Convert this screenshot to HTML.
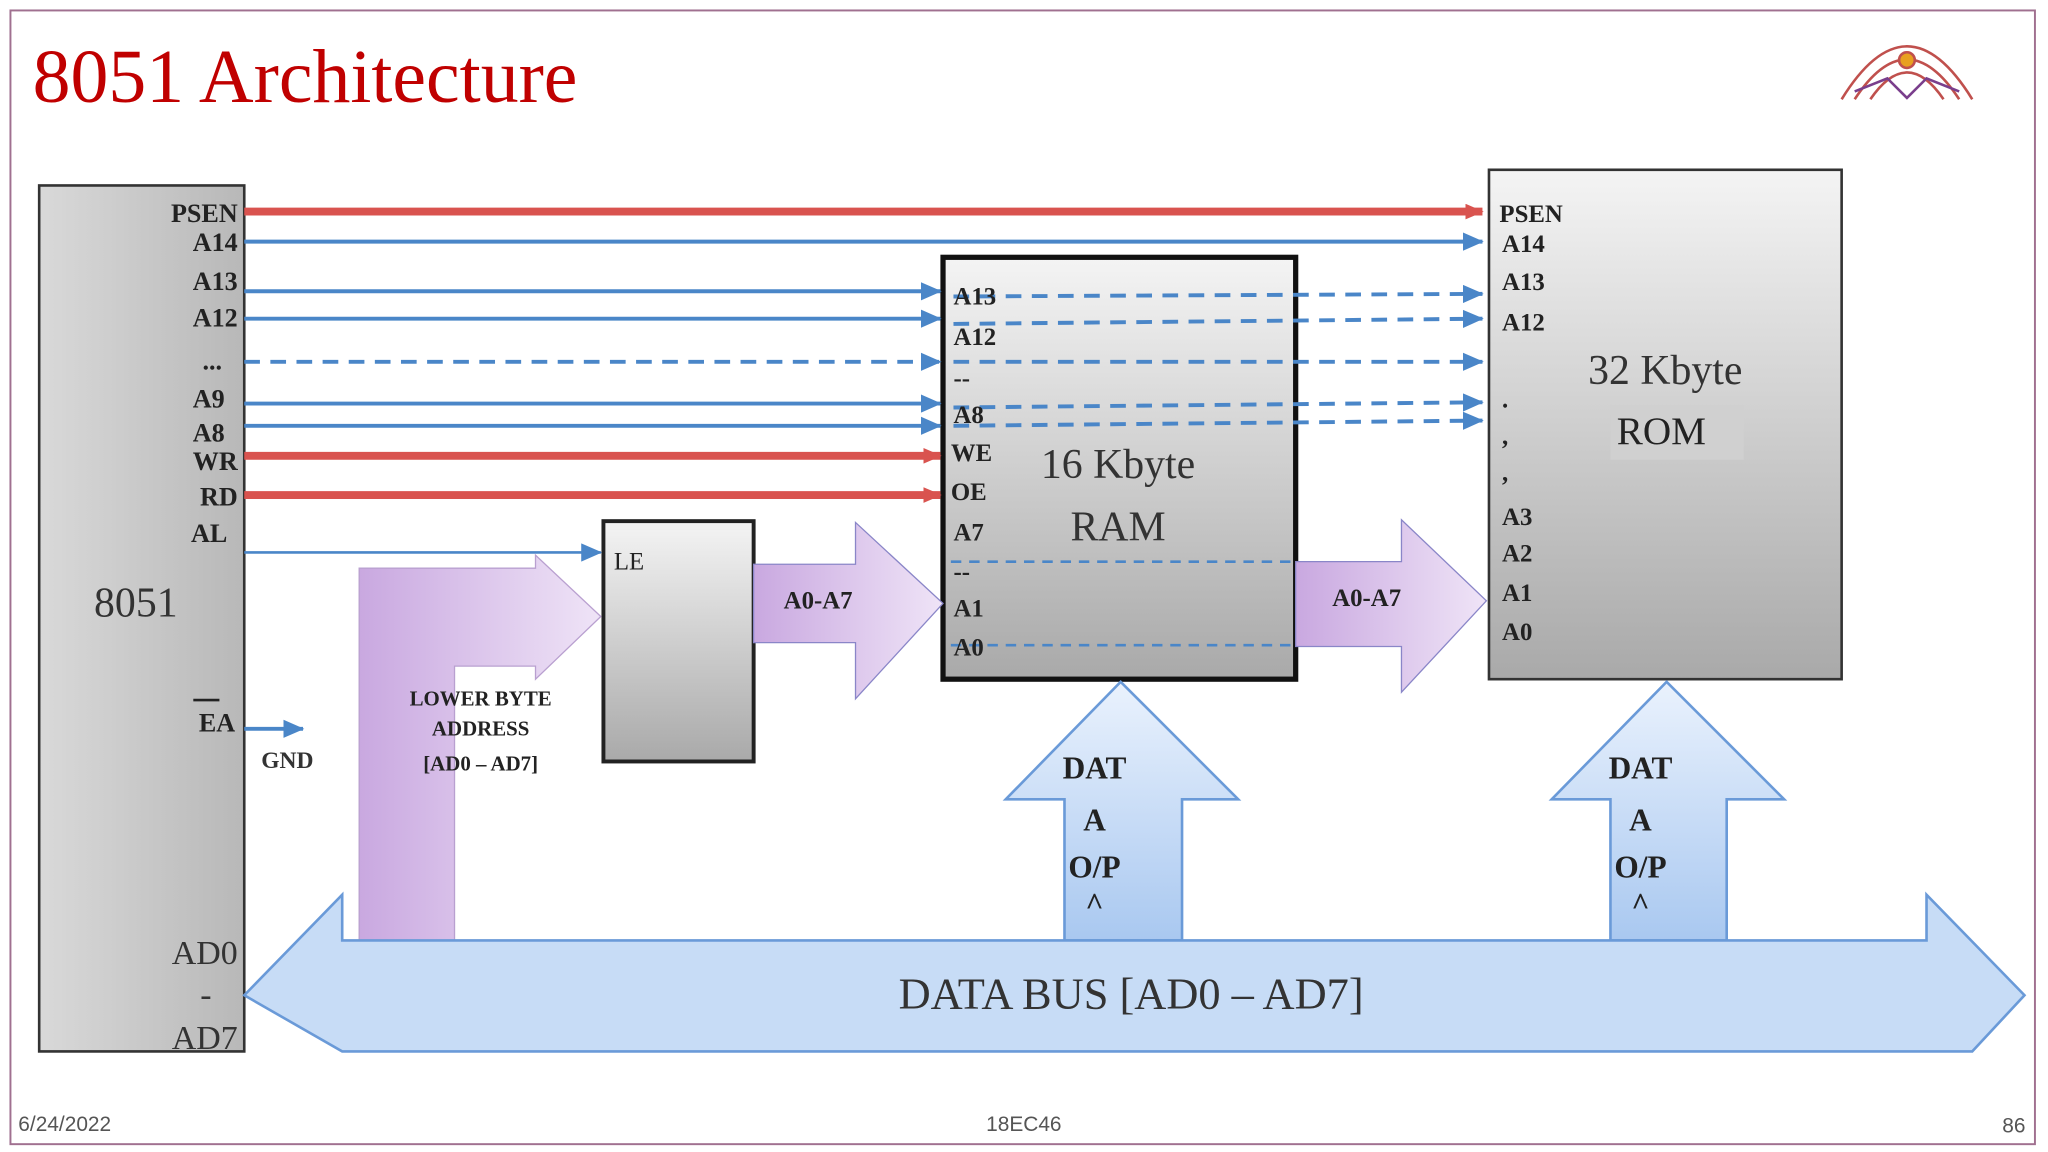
<!DOCTYPE html>
<html><head><meta charset="utf-8"><style>
html,body{margin:0;padding:0;background:#fff;}
svg{display:block;}
text{font-family:"Liberation Serif",serif;}
</style></head><body>
<svg width="2048" height="1152" viewBox="0 0 1568 882" xmlns="http://www.w3.org/2000/svg">
<defs>
<linearGradient id="g1" x1="0" y1="0" x2="0" y2="1"><stop offset="0" stop-color="#f4f4f4"/><stop offset="1" stop-color="#a9a9a9"/></linearGradient>
<linearGradient id="g2" x1="0" y1="0" x2="1" y2="0"><stop offset="0" stop-color="#d9d9d9"/><stop offset="1" stop-color="#b8b8b8"/></linearGradient>
<linearGradient id="pur" x1="0" y1="0" x2="1" y2="0"><stop offset="0" stop-color="#c9a8e0"/><stop offset="1" stop-color="#efe4f7"/></linearGradient>
<linearGradient id="blu" x1="0" y1="0" x2="0" y2="1"><stop offset="0" stop-color="#eaf2fd"/><stop offset="1" stop-color="#a9c8f0"/></linearGradient>
<marker id="ab" markerWidth="8" markerHeight="8" refX="7" refY="4" orient="auto" markerUnits="userSpaceOnUse"><path d="M0,0 L8,4 L0,8z" fill="#4a86c8"/></marker>
<marker id="ar" markerWidth="14" markerHeight="12" refX="13" refY="6" orient="auto" markerUnits="userSpaceOnUse"><path d="M0,0 L14,6 L0,12z" fill="#d9534f"/></marker>
<marker id="ab2" markerWidth="16" markerHeight="14" refX="15" refY="7" orient="auto" markerUnits="userSpaceOnUse"><path d="M0,0 L16,7 L0,14z" fill="#4a86c8"/></marker>
</defs>
<rect x="8" y="8" width="1550" height="868" fill="none" stroke="#a07090" stroke-width="1.5"/>
<text x="25" y="78" font-size="58" fill="#c00000">8051 Architecture</text>
<!-- logo -->
<g fill="none" stroke="#c0504d" stroke-width="2">
<path d="M1410,76 Q1460,-5 1510,76"/><path d="M1420,76 Q1460,15 1500,76"/><path d="M1432,76 Q1460,35 1488,76"/>
<path d="M1420,70 L1445,60 L1460,75 L1475,60 L1500,70" stroke="#7a3e8c"/>
</g>
<circle cx="1460" cy="46" r="6" fill="#e8a020" stroke="#c0504d" stroke-width="2"/>

<!-- 8051 box -->
<rect x="30" y="142" width="157" height="663" fill="url(#g2)" stroke="#333" stroke-width="2"/>
<!-- ROM -->
<rect x="1140" y="130" width="270" height="390" fill="url(#g1)" stroke="#333" stroke-width="2"/>
<!-- RAM -->
<rect x="722" y="197" width="270" height="323" fill="url(#g1)" stroke="#111" stroke-width="4"/>
<!-- LE -->
<rect x="462" y="399" width="115" height="184" fill="url(#g1)" stroke="#222" stroke-width="3"/>

<!-- lines -->
<g stroke-width="3">
<line x1="187" y1="162" x2="1135" y2="162" stroke="#d9534f" stroke-width="6" marker-end="url(#ar)"/>
<line x1="187" y1="185" x2="1135" y2="185" stroke="#4a86c8" marker-end="url(#ab2)"/>
<line x1="187" y1="223" x2="720" y2="223" stroke="#4a86c8" marker-end="url(#ab2)"/>
<line x1="187" y1="244" x2="720" y2="244" stroke="#4a86c8" marker-end="url(#ab2)"/>
<line x1="187" y1="277" x2="720" y2="277" stroke="#4a86c8" stroke-dasharray="12,8" marker-end="url(#ab2)"/>
<line x1="187" y1="309" x2="720" y2="309" stroke="#4a86c8" marker-end="url(#ab2)"/>
<line x1="187" y1="326" x2="720" y2="326" stroke="#4a86c8" marker-end="url(#ab2)"/>
<line x1="187" y1="349" x2="720" y2="349" stroke="#d9534f" stroke-width="6" marker-end="url(#ar)"/>
<line x1="187" y1="379" x2="720" y2="379" stroke="#d9534f" stroke-width="6" marker-end="url(#ar)"/>
<line x1="187" y1="423" x2="460" y2="423" stroke="#4a86c8" stroke-width="2" marker-end="url(#ab2)"/>
<line x1="730" y1="227" x2="1135" y2="225" stroke="#4a86c8" stroke-dasharray="12,8" marker-end="url(#ab2)"/>
<line x1="730" y1="248" x2="1135" y2="244" stroke="#4a86c8" stroke-dasharray="12,8" marker-end="url(#ab2)"/>
<line x1="730" y1="277" x2="1135" y2="277" stroke="#4a86c8" stroke-dasharray="12,8" marker-end="url(#ab2)"/>
<line x1="730" y1="312" x2="1135" y2="308" stroke="#4a86c8" stroke-dasharray="12,8" marker-end="url(#ab2)"/>
<line x1="730" y1="326" x2="1135" y2="322" stroke="#4a86c8" stroke-dasharray="12,8" marker-end="url(#ab2)"/>
<line x1="728" y1="430" x2="988" y2="430" stroke="#4a86c8" stroke-width="2" stroke-dasharray="8,6"/>
<line x1="728" y1="494" x2="988" y2="494" stroke="#4a86c8" stroke-width="2" stroke-dasharray="8,6"/>
<line x1="187" y1="558" x2="232" y2="558" stroke="#4a86c8" marker-end="url(#ab2)"/>
</g>

<!-- purple arrows -->
<polygon points="275,720 275,435 410,435 410,425 460,472 410,520 410,510 348,510 348,720" fill="url(#pur)" stroke="#b9a0d0"/>
<polygon points="577,432 655,432 655,400 722,462 655,535 655,492 577,492" fill="url(#pur)" stroke="#8a86c8"/>
<polygon points="992,430 1073,430 1073,398 1138,460 1073,530 1073,495 992,495" fill="url(#pur)" stroke="#8a86c8"/>
<!-- data up arrows -->
<polygon points="815,720 815,612 770,612 858,522 948,612 905,612 905,720" fill="url(#blu)" stroke="#6a9ad8" stroke-width="2"/>
<polygon points="1233,720 1233,612 1188,612 1276,522 1366,612 1322,612 1322,720" fill="url(#blu)" stroke="#6a9ad8" stroke-width="2"/>
<!-- data bus -->
<polygon points="187,762 262,685 262,720 1475,720 1475,685 1550,762 1510,805 262,805" fill="#c7dcf6" stroke="#6a9ad8" stroke-width="2"/>

<!-- labels -->
<g font-size="20" font-weight="bold" fill="#222" text-anchor="end">
<text x="182" y="170">PSEN</text><text x="182" y="192">A14</text><text x="182" y="222">A13</text><text x="182" y="250">A12</text>
<text x="170" y="283">...</text><text x="172" y="312">A9</text><text x="172" y="338">A8</text><text x="182" y="360">WR</text>
<text x="182" y="387">RD</text><text x="174" y="415">AL</text><text x="180" y="560">EA</text>
</g>
<line x1="148" y1="536" x2="168" y2="536" stroke="#222" stroke-width="2"/>
<text x="72" y="472" font-size="32" fill="#333">8051</text>
<text x="200" y="588" font-size="18" font-weight="bold" fill="#333">GND</text>
<g font-size="26" fill="#333" text-anchor="end"><text x="182" y="738">AD0</text><text x="162" y="770">-</text><text x="182" y="803">AD7</text></g>
<g font-size="19" font-weight="bold" fill="#222">
<text x="730" y="233">A13</text><text x="730" y="264">A12</text><text x="730" y="296">--</text><text x="730" y="324">A8</text>
<text x="728" y="353">WE</text><text x="728" y="383">OE</text><text x="730" y="414">A7</text><text x="730" y="444">--</text>
<text x="730" y="472">A1</text><text x="730" y="502">A0</text>
<text x="1148" y="170">PSEN</text><text x="1150" y="193">A14</text><text x="1150" y="222">A13</text><text x="1150" y="253">A12</text>
<text x="1150" y="312">.</text><text x="1150" y="340">,</text><text x="1150" y="368">,</text>
<text x="1150" y="402">A3</text><text x="1150" y="430">A2</text><text x="1150" y="460">A1</text><text x="1150" y="490">A0</text>
<text x="470" y="436" font-weight="normal">LE</text>
<text x="600" y="466">A0-A7</text><text x="1020" y="464">A0-A7</text>
</g>
<text x="856" y="366" font-size="32" fill="#333" text-anchor="middle">16 Kbyte</text>
<text x="856" y="414" font-size="32" fill="#333" text-anchor="middle">RAM</text>
<text x="1275" y="294" font-size="32" fill="#333" text-anchor="middle">32 Kbyte</text>
<rect x="1233" y="310" width="102" height="42" fill="#d0d0d0"/>
<text x="1272" y="340" font-size="30" fill="#222" text-anchor="middle">ROM</text>
<g font-size="16" font-weight="bold" fill="#222" text-anchor="middle">
<text x="368" y="540">LOWER BYTE</text><text x="368" y="563">ADDRESS</text><text x="368" y="590">[AD0 – AD7]</text>
</g>
<g font-size="24" font-weight="bold" fill="#222" text-anchor="middle">
<text x="838" y="596">DAT</text><text x="838" y="636">A</text><text x="838" y="672">O/P</text><text x="838" y="700">^</text>
<text x="1256" y="596">DAT</text><text x="1256" y="636">A</text><text x="1256" y="672">O/P</text><text x="1256" y="700">^</text>
</g>
<text x="866" y="772" font-size="34" fill="#333" text-anchor="middle">DATA BUS [AD0 – AD7]</text>

<g font-family="Liberation Sans,sans-serif" font-size="16" fill="#555">
<text x="14" y="866" style="font-family:'Liberation Sans',sans-serif">6/24/2022</text>
<text x="755" y="866" style="font-family:'Liberation Sans',sans-serif">18EC46</text>
<text x="1533" y="867" style="font-family:'Liberation Sans',sans-serif">86</text>
</g>
</svg>
</body></html>
